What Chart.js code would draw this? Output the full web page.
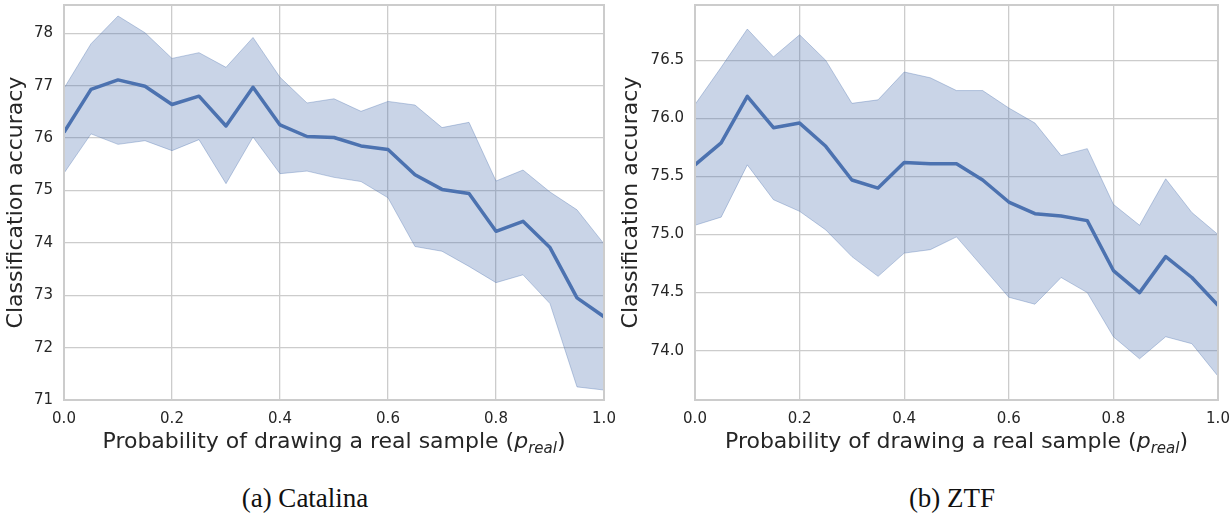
<!DOCTYPE html>
<html>
<head>
<meta charset="utf-8">
<script src="https://cdn.jsdelivr.net/npm/chart.js@4"></script>
<style>
  body { margin: 0; background: #ffffff; }
  #wrap { position: relative; width: 1231px; height: 515px; overflow: hidden; }
  .panel { position: absolute; top: 0; }
  .caption {
    position: absolute; top: 485px; line-height: 1; font-family: "Liberation Serif", "DejaVu Serif", serif;
    font-size: 27px; color: #111; transform: translateX(-50%); white-space: nowrap;
  }
</style>
</head>
<body>
<div id="wrap">
  <div class="panel" style="left:0px"><canvas id="catalinaCanvas" width="615" height="470"></canvas></div>
  <div class="panel" style="left:615px"><canvas id="ztfCanvas" width="616" height="470"></canvas></div>
  <div class="caption" style="left:305px">(a) Catalina</div>
  <div class="caption" style="left:952px">(b) ZTF</div>
</div>
<script>
// probability of drawing a real sample
const pReal = [0.0, 0.05, 0.1, 0.15, 0.2, 0.25, 0.3, 0.35, 0.4, 0.45, 0.5,
               0.55, 0.6, 0.65, 0.7, 0.75, 0.8, 0.85, 0.9, 0.95, 1.0];
const xTicks = [0.0, 0.2, 0.4, 0.6, 0.8, 1.0];

// Catalina: mean accuracy and band
const catalinaMean  = [76.11, 76.93, 77.11, 76.99, 76.64, 76.80, 76.23, 76.97, 76.25, 76.03, 76.01,
                       75.85, 75.78, 75.30, 75.02, 74.94, 74.22, 74.41, 73.91, 72.95, 72.59];
const catalinaUpper = [76.95, 77.80, 78.33, 78.01, 77.52, 77.63, 77.35, 77.92, 77.16, 76.67, 76.75,
                       76.51, 76.70, 76.63, 76.20, 76.30, 75.18, 75.39, 74.97, 74.63, 73.98];
const catalinaLower = [75.33, 76.08, 75.88, 75.95, 75.76, 75.97, 75.13, 76.02, 75.32, 75.37, 75.25,
                       75.17, 74.86, 73.93, 73.84, 73.55, 73.24, 73.39, 72.84, 71.25, 71.19];
const catalinaTicks = [71, 72, 73, 74, 75, 76, 77, 78];

// ZTF: mean accuracy and band
const ztfMean  = [75.60, 75.79, 76.19, 75.92, 75.96, 75.76, 75.47, 75.40, 75.62, 75.61, 75.61,
                  75.47, 75.28, 75.18, 75.16, 75.12, 74.69, 74.50, 74.81, 74.63, 74.39];
const ztfUpper = [76.12, 76.44, 76.77, 76.53, 76.72, 76.50, 76.13, 76.16, 76.40, 76.35, 76.24,
                  76.24, 76.09, 75.96, 75.68, 75.74, 75.26, 75.08, 75.48, 75.19, 75.00];
const ztfLower = [75.08, 75.15, 75.60, 75.30, 75.20, 75.04, 74.81, 74.64, 74.84, 74.87, 74.98,
                  74.72, 74.46, 74.40, 74.63, 74.50, 74.12, 73.93, 74.12, 74.06, 73.78];
const ztfTicks = [74.0, 74.5, 75.0, 75.5, 76.0, 76.5];

const lineColor = '#4c72b0';
const bandColor = 'rgba(76, 114, 176, 0.3)';
const bandEdge = 'rgba(76, 114, 176, 0.35)';
const gridColor = '#cccccc';
const textColor = '#262626';

function pts(ys) {
    return pReal.map((x, i) => ({ x: x, y: ys[i] }));
}

// frame around the plot + x axis title with subscript
const framePlugin = {
    id: 'frame',
    afterDraw(chart) {
        const ctx = chart.ctx;
        const a = chart.chartArea;
        ctx.save();
        ctx.strokeStyle = gridColor;
        ctx.lineWidth = 2;
        ctx.strokeRect(a.left, a.top, a.right - a.left, a.bottom - a.top);

        const main = 'Probability of drawing a real sample (';
        const fMain = '22px "DejaVu Sans"';
        const fItal = 'italic 22px "DejaVu Sans"';
        const fSub = 'italic 15px "DejaVu Sans"';
        ctx.font = fMain; const w1 = ctx.measureText(main).width; const w4 = ctx.measureText(')').width;
        ctx.font = fItal; const w2 = ctx.measureText('p').width;
        ctx.font = fSub; const w3 = ctx.measureText('real').width;
        let x = (a.left + a.right) / 2 - (w1 + w2 + w3 + w4) / 2;
        const y = 448;
        ctx.fillStyle = textColor;
        ctx.textBaseline = 'alphabetic';
        ctx.textAlign = 'left';
        ctx.font = fMain; ctx.fillText(main, x, y); x += w1;
        ctx.font = fItal; ctx.fillText('p', x, y); x += w2;
        ctx.font = fSub; ctx.fillText('real', x, y + 5); x += w3;
        ctx.font = fMain; ctx.fillText(')', x, y);
        ctx.restore();
    }
};

function makeChart(id, mean, upper, lower, yTicks, yMin, yMax, yWidth, padRight, decimals) {
    const ctx = document.getElementById(id).getContext('2d');
    return new Chart(ctx, {
        type: 'line',
        data: {
            datasets: [
                {
                    data: pts(upper),
                    borderColor: bandEdge,
                    borderWidth: 1,
                    backgroundColor: bandColor,
                    pointRadius: 0,
                    fill: '+1',
                    order: 2
                },
                {
                    data: pts(lower),
                    borderColor: bandEdge,
                    borderWidth: 1,
                    pointRadius: 0,
                    fill: false,
                    order: 2
                },
                {
                    data: pts(mean),
                    borderColor: lineColor,
                    borderWidth: 3.5,
                    pointRadius: 0,
                    fill: false,
                    borderJoinStyle: 'round',
                    order: 1
                }
            ]
        },
        options: {
            responsive: false,
            animation: false,
            layout: { padding: { top: 5, right: padRight, left: 0, bottom: 0 } },
            plugins: {
                legend: { display: false },
                tooltip: { enabled: false }
            },
            scales: {
                x: {
                    type: 'linear',
                    min: 0,
                    max: 1,
                    grid: { color: gridColor, lineWidth: 1.3, drawTicks: false },
                    border: { display: false },
                    afterBuildTicks: scale => { scale.ticks = xTicks.map(v => ({ value: v })); },
                    afterFit: scale => {
                        scale.height = 70;
                        scale.paddingLeft = 0;
                        scale.paddingRight = 0;
                    },
                    ticks: {
                        color: textColor,
                        padding: 10,
                        maxRotation: 0,
                        font: { family: 'DejaVu Sans', size: 15 },
                        callback: v => Number(v).toFixed(1)
                    }
                },
                y: {
                    min: yMin,
                    max: yMax,
                    grid: { color: gridColor, lineWidth: 1.3, drawTicks: false },
                    border: { display: false },
                    afterBuildTicks: scale => { scale.ticks = yTicks.map(v => ({ value: v })); },
                    afterFit: scale => {
                        scale.width = yWidth;
                        scale.paddingTop = 0;
                        scale.paddingBottom = 0;
                    },
                    title: {
                        display: true,
                        text: 'Classification accuracy',
                        color: textColor,
                        font: { family: 'DejaVu Sans', size: 22 },
                        padding: { top: 3, bottom: 0 }
                    },
                    ticks: {
                        color: textColor,
                        padding: 11,
                        font: { family: 'DejaVu Sans', size: 15 },
                        callback: v => Number(v).toFixed(decimals)
                    }
                }
            }
        },
        plugins: [framePlugin]
    });
}

makeChart('catalinaCanvas', catalinaMean, catalinaUpper, catalinaLower, catalinaTicks, 71, 78.54, 64, 11, 0);
makeChart('ztfCanvas', ztfMean, ztfUpper, ztfLower, ztfTicks, 73.575, 76.977, 80, 13, 1);
</script>
</body>
</html>
